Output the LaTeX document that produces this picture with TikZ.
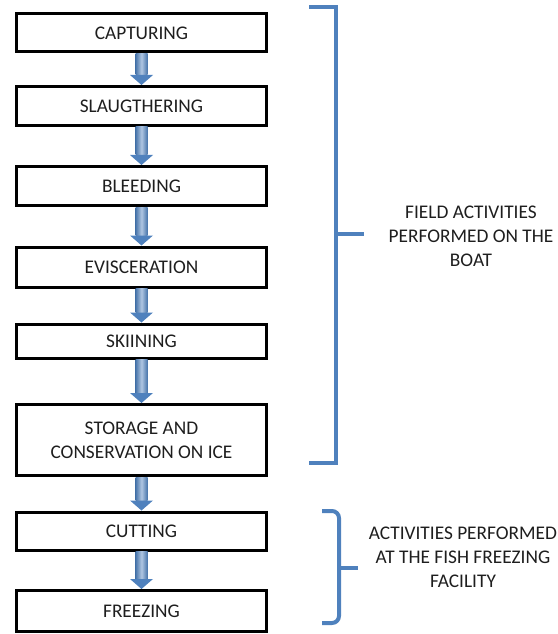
\documentclass[tikz,border=0pt]{standalone}
\usepackage{fontspec}
\setmainfont{Carlito}
\usetikzlibrary{calc}

\definecolor{arrblue}{RGB}{79,129,189}
\definecolor{inkgray}{RGB}{30,30,30}

\tikzset{
  stepbox/.style={draw=black,line width=3bp,minimum width=250bp,inner sep=0pt,
    align=center,text=inkgray},
  arrowfill/.style={left color=arrblue!90!black,right color=arrblue!90!black,middle color=arrblue!45!white},
  brace/.style={draw=arrblue,line width=4bp},
  note/.style={align=center,text=inkgray},
}

% block arrow from the bottom of one box to the top of the next
\newcommand{\flowarrow}[2]{%
  \shade[arrowfill] let \p1=(#1.south), \p2=(#2.north) in
    (\x1-6bp,\y1) rectangle (\x1+6bp,\y2+10bp);
  \fill[arrblue] let \p1=(#1.south), \p2=(#2.north) in
    (\x1-11.5bp,\y2+10bp) -- (\x1+11.5bp,\y2+10bp) -- (\x1,\y2) -- cycle;}

\begin{document}
\begin{tikzpicture}[x=1bp,y=-1bp,font=\fontsize{19.4}{24}\selectfont]
  \useasboundingbox (0,0) rectangle (558,634);
  % --- steps ---
  \node[stepbox,minimum height=38bp] (capt) at (141.5,33) {CAPTURING};
  \node[stepbox,minimum height=39bp] (slau) at (141.5,106) {SLAUGTHERING};
  \node[stepbox,minimum height=39bp] (blee) at (141.5,186) {BLEEDING};
  \node[stepbox,minimum height=40bp] (evis) at (141.5,267) {EVISCERATION};
  \node[stepbox,minimum height=34bp] (skin) at (141.5,341) {SKIINING};
  \node[stepbox,minimum height=71bp] (stor) at (141.5,440) {STORAGE AND\\CONSERVATION ON ICE};
  \node[stepbox,minimum height=38bp] (cutt) at (141.5,531) {CUTTING};
  \node[stepbox,minimum height=41bp] (free) at (141.5,611) {FREEZING};
  % arrows
  \flowarrow{capt}{slau}
  \flowarrow{slau}{blee}
  \flowarrow{blee}{evis}
  \flowarrow{evis}{skin}
  \flowarrow{skin}{stor}
  \flowarrow{stor}{cutt}
  \flowarrow{cutt}{free}
  % --- boat bracket ---
  \draw[brace] (309,7) -- (336,7) -- (336,463) -- (309,463);
  \draw[brace] (336,234) -- (364,234);
  \node[note] (boat) at (471,236) {FIELD ACTIVITIES\\PERFORMED ON THE\\BOAT};
  % --- facility bracket ---
  \draw[brace,rounded corners=7bp] (322,511) -- (339,511) -- (339,623) -- (322,623);
  \draw[brace] (339,568) -- (358,568);
  \node[note] (fact) at (463,557) {ACTIVITIES PERFORMED\\AT THE FISH FREEZING\\FACILITY};
\end{tikzpicture}
\end{document}
